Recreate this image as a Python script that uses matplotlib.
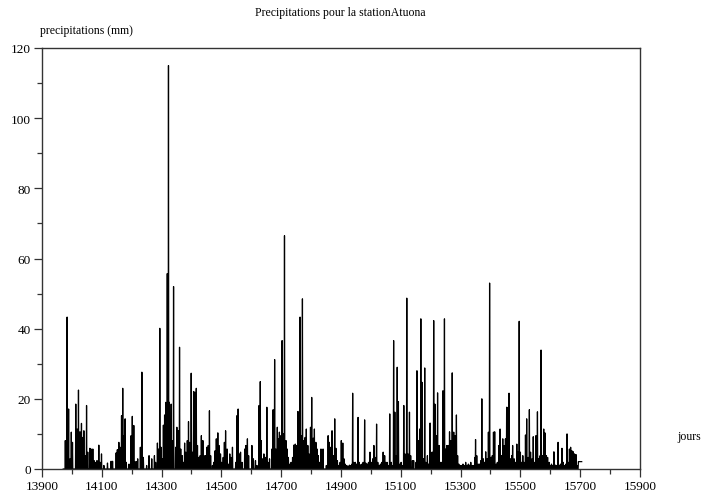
import numpy as np
import matplotlib
matplotlib.use("Agg")
import matplotlib.pyplot as plt
from matplotlib.ticker import MultipleLocator

# pluie journaliere (mm) relevee a Atuona, jours sans valeur = 0
jours_pluie = [
    13978, 13984, 13989, 13994, 13998, 14002, 14013, 14018, 14022, 14027,
    14032, 14036, 14040, 14044, 14049, 14053, 14060, 14064, 14070, 14074,
    14080, 14084, 14090, 14094, 14099, 14107, 14119, 14131, 14136, 14148,
    14152, 14157, 14161, 14166, 14170, 14174, 14178, 14182, 14191, 14198,
    14202, 14207, 14211, 14216, 14220, 14229, 14234, 14239,
    14250, 14258, 14267, 14276, 14280, 14286, 14290, 14294, 14298, 14302,
    14306, 14310, 14314, 14319, 14323, 14326, 14329, 14332, 14337, 14340,
    14347, 14351, 14356, 14360, 14364, 14369, 14373, 14377, 14381, 14386,
    14390, 14394, 14399, 14403, 14407, 14411, 14416, 14420, 14424, 14429,
    14433, 14438, 14442, 14447, 14451, 14456, 14460, 14464, 14470, 14474,
    14479, 14483, 14488, 14492, 14497, 14501, 14506, 14510, 14514, 14519,
    14523, 14528, 14532, 14537,
    14548, 14552, 14556, 14560, 14564, 14569, 14578, 14582, 14587, 14591,
    14602, 14607, 14614, 14619, 14626, 14630, 14633, 14638, 14642, 14647,
    14652, 14656, 14661, 14669, 14673, 14678, 14682, 14687, 14691, 14694,
    14699, 14703, 14708, 14711, 14716, 14720, 14724, 14729, 14733, 14738,
    14742, 14747, 14751, 14756, 14760, 14763, 14767, 14771, 14776, 14780,
    14784, 14789, 14793, 14798, 14802, 14807, 14811, 14816, 14820, 14824,
    14829, 14833, 14840,
    14851, 14857, 14861, 14866, 14870, 14874, 14879, 14883, 14888, 14892,
    14897, 14901, 14906, 14910, 14914, 14919, 14923, 14928, 14932, 14937,
    14939, 14943, 14948, 14952, 14957, 14961, 14966, 14970, 14974, 14979,
    14983, 14988, 14992, 14997, 15001, 15006, 15010, 15014, 15019, 15023,
    15028, 15032, 15037, 15041, 15046, 15050, 15054, 15059, 15063, 15068,
    15072, 15076, 15080, 15083, 15088, 15092, 15097, 15101, 15106, 15110,
    15114, 15120, 15124, 15129, 15133, 15139, 15143,
    15151, 15154, 15159, 15163, 15167, 15171, 15176, 15180, 15184, 15189,
    15193, 15198, 15201, 15206, 15210, 15214, 15219, 15223, 15228, 15232,
    15237, 15241, 15246, 15250, 15254, 15259, 15263, 15268, 15272, 15277,
    15281, 15286, 15290, 15294, 15299, 15303, 15308, 15312, 15317, 15321,
    15326, 15330, 15334, 15339, 15343, 15348, 15350, 15354, 15359, 15363,
    15368, 15371, 15376, 15380, 15384, 15389, 15393, 15397, 15401, 15406,
    15410, 15414, 15419, 15423, 15428, 15432, 15437, 15441, 15446,
    15450, 15454, 15459, 15462, 15467, 15471, 15474, 15479, 15483, 15488,
    15492, 15496, 15500, 15503, 15508, 15512, 15517, 15521, 15526, 15530,
    15534, 15539, 15543, 15548, 15552, 15557, 15561, 15566, 15569, 15573,
    15578, 15582, 15587, 15591, 15596, 15600, 15604, 15609, 15612, 15617,
    15621, 15626, 15630, 15634, 15639, 15643, 15648, 15652, 15656, 15660,
    15664, 15668, 15672, 15677, 15681, 15686, 15689,
    15694, 15695, 15696, 15697, 15698, 15699, 15700, 15701, 15702, 15703,
    15704, 15705,
]
pluie_mm = [
    8.1, 43.3, 17.1, 2.9, 10.5, 7.6, 18.5, 11.4, 22.5, 10.6,
    13.0, 9.0, 10.9, 3.8, 18.1, 4.8, 5.9, 5.7, 5.7, 2.4,
    1.9, 2.4, 6.8, 1.9, 4.3, 1.0, 1.7, 2.2, 2.2, 4.6,
    5.5, 7.6, 6.2, 15.2, 23.0, 9.5, 14.3, 1.9, 1.4, 9.5,
    15.0, 12.4, 2.1, 2.1, 2.9, 6.2, 27.6, 3.3,
    1.0, 3.8, 2.9, 3.8, 1.9, 7.4, 5.7, 40.1, 6.2, 2.9,
    12.5, 15.4, 19.0, 55.7, 115.0, 19.0, 13.3, 18.5, 8.1, 52.0,
    6.2, 11.9, 10.9, 34.7, 5.7, 3.8, 1.9, 7.4, 4.8, 8.1,
    13.5, 7.6, 27.3, 4.8, 22.1, 21.9, 23.0, 6.7, 3.3, 3.8,
    9.5, 8.1, 3.8, 3.8, 6.2, 6.7, 16.6, 3.8, 1.0, 1.9,
    5.2, 8.6, 10.3, 6.7, 4.3, 1.9, 3.3, 7.6, 10.9, 5.7,
    1.4, 4.3, 3.3, 6.2,
    1.9, 15.2, 17.1, 4.3, 4.8, 1.9, 5.7, 6.7, 8.6, 3.8,
    6.7, 2.9, 2.4, 1.0, 18.1, 24.9, 8.1, 2.9, 4.3, 3.3,
    17.6, 1.9, 2.9, 5.7, 16.9, 31.2, 5.7, 11.9, 8.6, 10.5,
    9.5, 36.6, 10.0, 66.5, 8.1, 5.7, 3.3, 1.4, 1.9, 3.3,
    6.8, 7.1, 6.7, 16.4, 7.6, 43.3, 9.5, 48.5, 8.1, 9.0,
    11.4, 6.7, 4.3, 11.9, 20.4, 8.8, 11.4, 7.6, 5.7, 3.8,
    1.9, 5.7, 5.7,
    1.0, 9.5, 7.6, 6.2, 10.9, 3.8, 14.3, 5.9, 2.4, 1.0,
    1.9, 8.1, 7.4, 2.9, 1.4, 1.0, 0.8, 1.1, 1.0, 1.4,
    21.6, 1.9, 1.9, 1.4, 14.7, 1.9, 1.2, 1.4, 1.9, 14.0,
    1.7, 1.4, 1.9, 4.8, 1.9, 2.9, 6.7, 3.3, 12.8, 1.9,
    1.0, 1.4, 1.9, 4.8, 3.8, 1.9, 1.9, 1.0, 15.7, 1.9,
    1.0, 36.6, 16.2, 3.8, 29.0, 19.2, 1.4, 1.9, 1.0, 18.1,
    4.3, 48.7, 4.3, 16.2, 3.8, 2.4, 2.4,
    1.9, 28.0, 8.1, 11.4, 42.8, 24.7, 2.9, 28.8, 1.9, 3.8,
    1.4, 13.1, 4.8, 4.8, 42.3, 18.5, 9.5, 21.7, 6.7, 1.9,
    1.9, 22.3, 42.8, 5.7, 6.7, 6.7, 10.6, 8.1, 27.4, 10.5,
    9.5, 15.4, 3.8, 1.4, 1.0, 1.0, 1.4, 1.0, 1.9, 1.0,
    1.4, 1.1, 1.9, 1.0, 1.0, 3.3, 8.4, 3.8, 1.4, 1.4,
    2.4, 20.0, 2.9, 1.9, 4.9, 2.9, 10.5, 53.0, 3.3, 3.8,
    10.5, 10.6, 1.4, 1.9, 6.7, 11.4, 3.8, 8.6, 6.7,
    8.6, 17.6, 17.6, 21.6, 2.9, 3.8, 6.7, 2.9, 1.9, 7.1,
    4.8, 42.1, 4.8, 1.9, 3.8, 1.9, 9.7, 14.3, 3.3, 16.9,
    4.8, 2.9, 9.2, 1.9, 9.5, 16.3, 2.9, 3.8, 33.9, 3.8,
    11.4, 10.3, 3.8, 3.3, 1.9, 1.0, 1.4, 1.0, 4.9, 1.1,
    1.0, 7.6, 1.0, 1.4, 5.9, 1.9, 1.0, 1.4, 10.0, 1.9,
    5.7, 6.2, 5.2, 4.9, 4.3, 4.1, 1.0,
    2.1, 2.1, 2.1, 2.1, 2.1, 2.1, 2.1, 2.1, 2.1, 2.1,
    2.1, 2.1,
]

premier_jour = 13971
dernier_jour = 15705

jours = np.arange(premier_jour, dernier_jour + 1)
pluie = np.zeros(len(jours))
pluie[np.array(jours_pluie) - premier_jour] = pluie_mm

# graduations : etiquettes tous les 200 jours a partir de 13900
xt_major = np.arange(13900, 15901, 200)
xt_minor = np.arange(14000, 15900, 200)

plt.rcParams["font.family"] = ["Liberation Serif", "DejaVu Serif"]

fig = plt.figure(figsize=(7.06, 5.02), dpi=100)
ax = fig.add_axes([42 / 706, 1 - 470 / 502, 598 / 706, 421 / 502])

ax.plot(jours, pluie, color="black", lw=0.9)

ax.set_xlim(13900, 15900)
ax.set_ylim(0, 120)
ax.set_xticks(xt_major)
ax.set_xticks(xt_minor, minor=True)
ax.yaxis.set_major_locator(MultipleLocator(20))
ax.yaxis.set_minor_locator(MultipleLocator(10))
ax.tick_params(which="both", direction="out", labelsize=9.5, color="#333333", width=0.9)
ax.tick_params(which="major", length=6, pad=2)
ax.tick_params(which="minor", length=3.5)
for s in ax.spines.values():
    s.set_color("#333333")
    s.set_linewidth(1.0)

fig.text(340 / 706, 1 - 13 / 502, "Precipitations pour la stationAtuona",
         ha="center", va="center", fontsize=8.5)
fig.text(40 / 706, 1 - 31 / 502, "precipitations (mm)",
         ha="left", va="center", fontsize=8.5)
fig.text(677 / 706, 1 - 437 / 502, "jours", ha="left", va="center", fontsize=8.5)

fig.savefig("out.png", dpi=100)
